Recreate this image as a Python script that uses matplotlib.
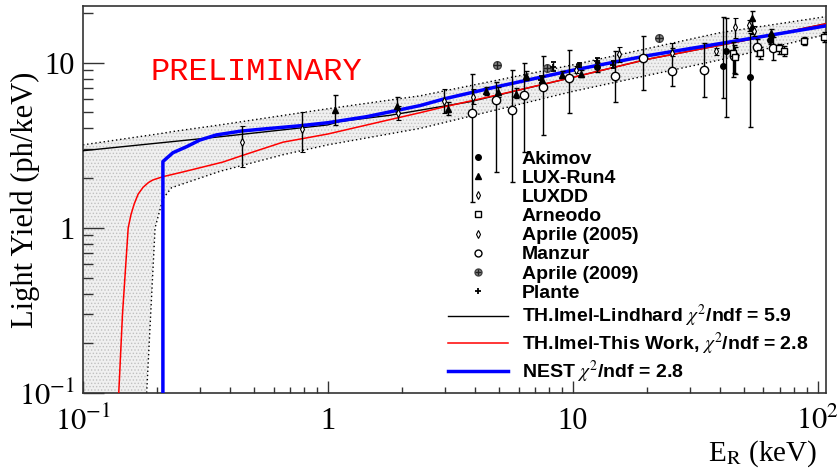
import numpy as np
import matplotlib
matplotlib.use("Agg")
import matplotlib.pyplot as plt
from matplotlib.lines import Line2D
from matplotlib.legend_handler import HandlerTuple

plt.rcParams['font.family'] = ['Liberation Serif', 'DejaVu Serif']
plt.rcParams['mathtext.fontset'] = 'stix'
plt.rcParams['hatch.linewidth'] = 0.6
plt.rcParams['hatch.color'] = '#c4c4c4'

# ---- theory curves (E_R in keV, light yield in ph/keV) ----
lind_x = [0.1, 0.363, 1.0, 1.12, 1.79, 3.8, 10, 20, 50, 108]
lind_y = [2.93, 3.56, 4.2, 4.41, 4.8, 5.8, 8.15, 10.46, 13.6, 17.2]

this_x = [0.140, 0.145, 0.153, 0.157, 0.162, 0.168, 0.176, 0.185, 0.193, 0.212, 0.256,
          0.372, 0.44, 0.655, 1.0, 1.79, 2.38, 3.0, 5.0, 10, 20, 50, 108]
this_y = [0.1, 0.3, 1.0, 1.2, 1.4, 1.6, 1.76, 1.88, 1.95, 2.04, 2.18,
          2.50, 2.72, 3.3, 3.7, 4.52, 4.98, 5.41, 6.41, 8.15, 10.46, 13.6, 17.2]

nest_x = [0.212, 0.212, 0.233, 0.265, 0.30, 0.35, 0.44, 0.56, 0.77, 1.0, 1.44,
          2.38, 3.0, 5.0, 10, 20, 50, 108]
nest_y = [0.1, 2.52, 2.85, 3.10, 3.40, 3.65, 3.85, 3.98, 4.15, 4.33, 4.71,
          5.50, 6.05, 7.2, 9.0, 11.0, 13.8, 16.7]

# uncertainty band
band_x = [0.1, 0.18, 0.182, 0.19, 0.197, 0.212, 0.23, 0.363, 0.655, 1.0, 2.38, 10, 40, 108]
band_hi = [3.18, 3.61, 3.62, 3.65, 3.68, 3.74, 3.82, 4.2, 4.79, 5.26, 6.3, 9.7, 15.2, 19.0]
band_lo = [0.05, 0.05, 0.1, 0.35, 1.0, 1.5, 1.75, 2.2, 2.77, 3.18, 4.0, 6.7, 10.4, 14.8]

# ---- measurements: x, y, lower end, upper end of error bar ----
akimov_x = [12.6, 41.0, 42.1, 52.7, 63.7]
akimov_y = [9.46, 9.59, 11.7, 8.23, 13.8]
akimov_lo = [8.8, 6.14, 4.71, 4.09, 12.9]
akimov_hi = [10.1, 19.0, 18.7, 15.2, 14.8]

lux4_x = [1.07, 1.91, 3.09, 4.42, 4.94, 5.85, 6.43, 7.47, 9.02, 10.8, 53.8, 53.8, 64.3]
lux4_y = [5.19, 5.49, 5.26, 6.76, 6.67, 6.49, 8.34, 7.89, 8.46, 8.58, 18.7, 16.5, 15.2]
lux4_lo = [4.21, 5.05, 4.84, 6.40, 6.22, 6.14, 7.89, 7.5, 8.1, 8.2, 16.0, 15.0, 14.4]
lux4_hi = [6.40, 6.22, 5.81, 7.16, 7.16, 7.05, 8.95, 8.3, 8.9, 9.0, 20.5, 18.0, 16.0]

luxdd_x = [0.446, 0.783, 1.93, 2.97, 3.91, 10.3, 15.4, 25.4]
luxdd_y = [3.32, 3.98, 4.98, 5.89, 6.22, 9.08, 11.3, 11.5]
luxdd_lo = [2.34, 2.89, 4.52, 4.98, 5.6, 8.6, 10.1, 10.9]
luxdd_hi = [4.15, 5.05, 5.49, 6.95, 6.9, 9.6, 12.5, 13.2]

arneodo_x = [45.0, 46.0, 58.0, 69.3, 72.6, 87.7, 106]
arneodo_y = [11.5, 10.8, 11.5, 12.2, 11.8, 13.6, 14.4]
arneodo_lo = [8.23, 8.5, 10.5, 11.3, 10.9, 12.8, 13.4]
arneodo_hi = [13.4, 12.5, 12.5, 13.0, 12.6, 14.4, 15.4]

apr05_x = [38.4, 45.8, 52.3, 54.8]
apr05_y = [11.7, 16.5, 16.8, 15.6]
apr05_lo = [11.2, 14.2, 15.6, 14.6]
apr05_hi = [12.2, 18.7, 18.0, 16.6]

manzur_x = [3.87, 4.85, 5.64, 6.31, 7.55, 9.64, 14.8, 19.3, 25.4, 34.3, 45.5, 56.4, 65.5]
manzur_y = [4.98, 5.97, 5.19, 6.40, 7.16, 8.11, 8.34, 10.7, 8.95, 9.08, 10.9, 12.5, 12.2]
manzur_lo = [1.44, 2.18, 1.90, 2.89, 3.66, 4.98, 5.81, 6.86, 7.26, 6.22, 8.6, 11.0, 10.4]
manzur_hi = [8.58, 7.67, 9.08, 10.0, 10.9, 12.0, 11.7, 14.6, 12.3, 13.2, 12.8, 14.0, 14.4]

apr09_x = [4.90, 7.83, 22.4]
apr09_y = [9.73, 9.33, 14.2]
apr09_lo = [9.45, 9.05, 13.8]
apr09_hi = [10.0, 9.6, 14.6]

plante_x = [7.40, 8.28, 10.6, 12.5, 14.6]
plante_y = [7.89, 9.46, 9.73, 10.3, 9.73]
plante_lo = [7.5, 8.95, 9.46, 9.9, 9.33]
plante_hi = [8.3, 10.1, 10.0, 10.7, 10.3]

xticks = [0.1, 1, 10, 100]
xticklabels = [r'$10^{-1}$', '1', '10', r'$10^{2}$']
yticks = [0.1, 1, 10]
yticklabels = [r'$10^{-1}$', '1', '10']


fig = plt.figure(figsize=(8.38, 4.69), dpi=100)
ax = fig.add_axes([0.099, 0.162, 0.8867, 0.825])
ax.set_xscale('log')
ax.set_yscale('log')

ax.fill_between(band_x, band_lo, band_hi, facecolor='#f0f0f0', hatch='.....',
                edgecolor='#c0c0c0', linewidth=0, zorder=1)
ax.plot(band_x, band_hi, ls=(0, (1, 2)), color='k', lw=1, zorder=2)
ax.plot(band_x, band_lo, ls=(0, (1, 2)), color='k', lw=1, zorder=2)

ax.plot(lind_x, lind_y, color='k', lw=1, zorder=3)
ax.plot(this_x, this_y, color='#ff0000', lw=1.1, zorder=4)
ax.plot(nest_x, nest_y, color='#0000ff', lw=2.5, zorder=5)


def draw(x, y, lo, hi, **kw):
    y = np.array(y)
    err = [y - np.array(lo), np.array(hi) - y]
    ax.errorbar(x, y, yerr=err, ls='none', ecolor='k', elinewidth=1,
                capsize=1.8, capthick=1, zorder=6, **kw)


draw(manzur_x, manzur_y, manzur_lo, manzur_hi, marker='o', ms=6, mfc='white', mec='k', mew=1)
draw(akimov_x, akimov_y, akimov_lo, akimov_hi, marker='o', ms=4, color='k')
draw(lux4_x, lux4_y, lux4_lo, lux4_hi, marker='^', ms=4, color='k')
draw(luxdd_x, luxdd_y, luxdd_lo, luxdd_hi, marker='d', ms=4, mfc='white', mec='k', mew=0.8)
draw(arneodo_x, arneodo_y, arneodo_lo, arneodo_hi, marker='s', ms=5, mfc='white', mec='k', mew=1)
draw(apr05_x, apr05_y, apr05_lo, apr05_hi, marker='d', ms=4, mfc='white', mec='k', mew=0.8)
draw(apr09_x, apr09_y, apr09_lo, apr09_hi, marker='o', ms=5.5, mfc='#8c8c8c', mec='#444444', mew=1)
ax.plot(apr09_x, apr09_y, ls='none', marker='+', ms=5.5, color='#222222', mew=1, zorder=7)
draw(plante_x, plante_y, plante_lo, plante_hi, marker='+', ms=5, color='k', mew=1.3)

ax.set_xlim(0.1, 108)
ax.set_ylim(0.1, 22)

ax.set_xticks(xticks)
ax.set_xticklabels(xticklabels)
ax.set_yticks(yticks)
ax.set_yticklabels(yticklabels)
ax.tick_params(which='both', direction='in', top=False, right=False, width=1, color='#333333',
               labelsize=22)
ax.tick_params(axis='x', which='major', length=9, pad=10)
ax.tick_params(axis='x', which='minor', length=4.5)
ax.tick_params(axis='y', which='major', length=15, pad=6)
ax.tick_params(axis='y', which='minor', length=7.5)
for s in ax.spines.values():
    s.set_linewidth(1.2)
    s.set_color('#333333')

ax.set_ylabel('Light Yield (ph/keV)', fontsize=22)
ax.yaxis.set_label_coords(-0.058, 0.5)
ax.set_xlabel(r'E$_{\mathrm{R}}$ (keV)', fontsize=21, ha='right')
ax.xaxis.set_label_coords(0.988, -0.118)

ax.text(0.233, 0.829, 'PRELIMINARY', transform=ax.transAxes, color='#ff0000',
        fontsize=23, family='Liberation Mono', ha='center', va='center')

# legend
h_ak = Line2D([], [], ls='none', marker='o', ms=4, color='k')
h_l4 = Line2D([], [], ls='none', marker='^', ms=4, color='k')
h_dd = Line2D([], [], ls='none', marker='d', ms=4, mfc='white', mec='k', mew=0.8)
h_ar = Line2D([], [], ls='none', marker='s', ms=5, mfc='white', mec='k', mew=1)
h_a5 = Line2D([], [], ls='none', marker='d', ms=4, mfc='white', mec='k', mew=0.8)
h_mz = Line2D([], [], ls='none', marker='o', ms=5, mfc='white', mec='k', mew=1)
h_a9a = Line2D([], [], ls='none', marker='o', ms=5, mfc='#8c8c8c', mec='#444444', mew=1)
h_a9b = Line2D([], [], ls='none', marker='+', ms=5, color='#222222', mew=1)
h_pl = Line2D([], [], ls='none', marker='+', ms=5, color='k', mew=1.3)
h_li = Line2D([], [], color='k', lw=1)
h_tw = Line2D([], [], color='#ff0000', lw=1.1)
h_ne = Line2D([], [], color='#0000ff', lw=2.5)

handles = [h_ak, h_l4, h_dd, h_ar, h_a5, h_mz, (h_a9a, h_a9b), h_pl, h_li, h_tw, h_ne]
labels = ['Akimov', 'LUX-Run4', 'LUXDD', 'Arneodo', 'Aprile (2005)', 'Manzur',
          'Aprile (2009)', 'Plante',
          r'TH.Imel-Lindhard $\chi^{2}$/ndf = 5.9',
          r'TH.Imel-This Work, $\chi^{2}$/ndf = 2.8',
          r'NEST $\chi^{2}$/ndf = 2.8']
leg = ax.legend(handles, labels, loc='upper left', bbox_to_anchor=(0.4913, 0.628),
                frameon=False, borderpad=0, borderaxespad=0, handlelength=3.1,
                handletextpad=0.7, labelspacing=0.08,
                prop={'family': 'Liberation Sans', 'weight': 'bold', 'size': 14},
                handler_map={tuple: HandlerTuple(ndivide=1, pad=0)})
leg.set_zorder(10)

fig.savefig('out.png', dpi=100)
